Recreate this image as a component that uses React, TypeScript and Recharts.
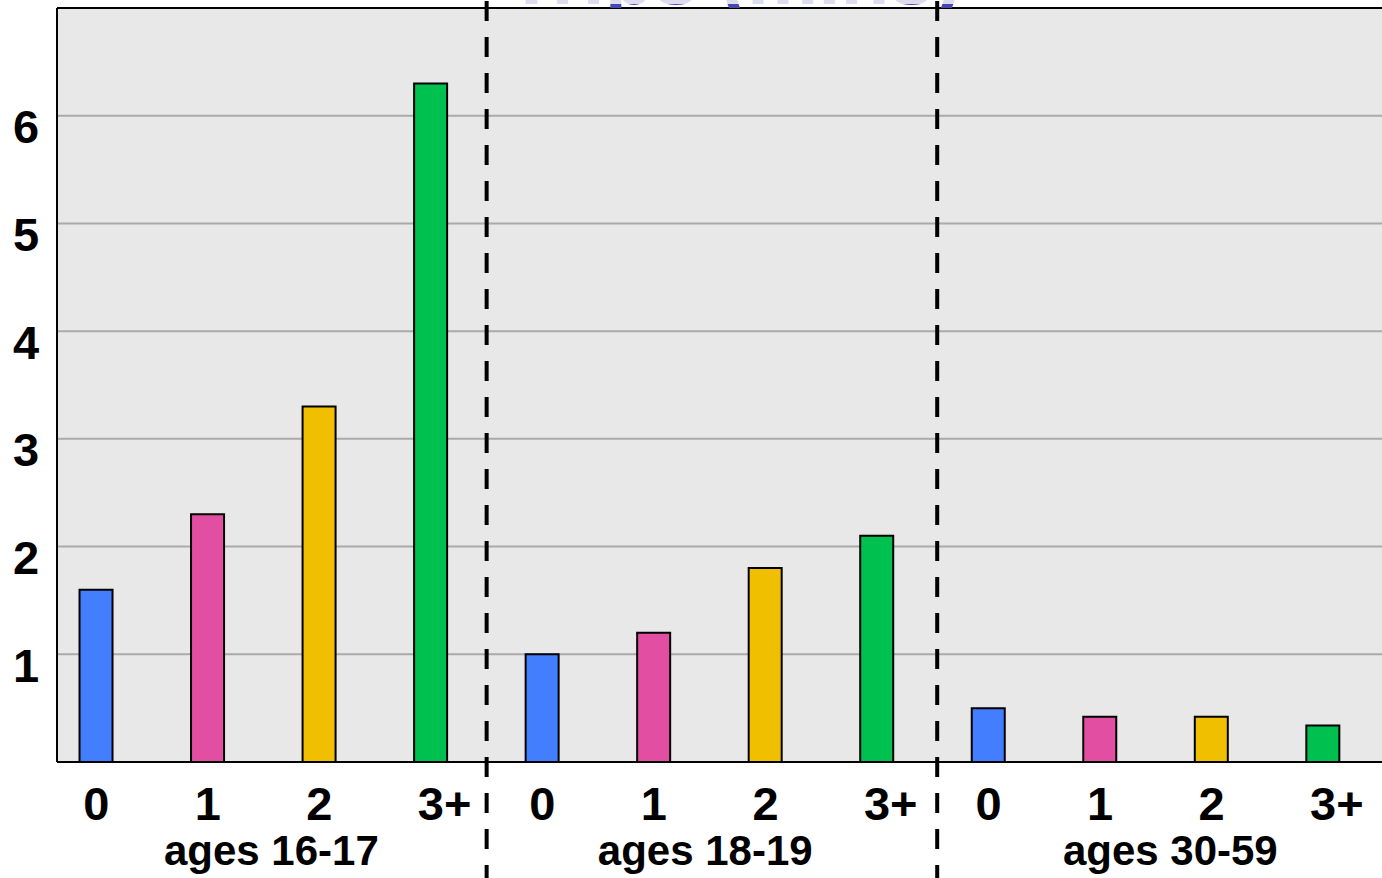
import React from "react";
import {
  BarChart,
  Bar,
  XAxis,
  YAxis,
  CartesianGrid,
  ReferenceLine,
  Cell,
} from "recharts";

// ---- data ----
const passengerCategories = ["0", "1", "2", "3+"];
const ageGroups = ["ages 16-17", "ages 18-19", "ages 30-59"];
const valuesAges1617 = [1.6, 2.3, 3.3, 6.3];
const valuesAges1819 = [1.0, 1.2, 1.8, 2.1];
const valuesAges3059 = [0.5, 0.42, 0.42, 0.34];
const yTicks = [1, 2, 3, 4, 5, 6];
const titleText = "Trips (mins)";

// ---- styling / layout constants ----
const barColors = ["#437eff", "#e24fa2", "#f0c000", "#00c050"];
const FONT = "'Liberation Sans', Arial, sans-serif";
const X_DOMAIN: [number, number] = [-0.3523, 11.6];
const Y_DOMAIN: [number, number] = [0, 7];
const groupSeparators = [3.5, 7.54];
const groupLabelPositions = [1.57, 5.46, 9.63];

const data = [valuesAges1617, valuesAges1819, valuesAges3059].flatMap((vals, g) =>
  vals.map((v, i) => ({
    x: g * 4 + i,
    label: passengerCategories[i],
    value: v,
    colorIndex: i,
  }))
);
const catTicks = data.map((d) => d.x);

const CatTick = (props: any) => {
  const { x, y, payload } = props;
  const label = passengerCategories[Math.round(payload.value) % 4];
  return (
    <text
      x={x}
      y={y + 58}
      dx="-0.278em"
      textAnchor="start"
      fontFamily={FONT}
      fontWeight="bold"
      fontSize={47}
      fill="#000"
    >
      {label}
    </text>
  );
};

const GroupTick = (props: any) => {
  const { x, y, index } = props;
  return (
    <text
      x={x}
      y={y + 43}
      textAnchor="middle"
      fontFamily={FONT}
      fontWeight="bold"
      fontSize={42}
      fill="#000"
    >
      {ageGroups[index]}
    </text>
  );
};

const YTick = (props: any) => {
  const { y, payload } = props;
  return (
    <text
      x={26}
      y={y + 27.5}
      textAnchor="middle"
      fontFamily={FONT}
      fontWeight="bold"
      fontSize={47}
      fill="#000"
    >
      {payload.value}
    </text>
  );
};

export default function App() {
  return (
    <div
      style={{
        position: "fixed",
        left: 0,
        top: 0,
        width: 1382,
        height: 878,
        overflow: "hidden",
        background: "#fff",
      }}
    >
      <div style={{ position: "absolute", left: 0, top: 0, width: 1390, height: 878 }}>
        <BarChart
          width={1390}
          height={878}
          data={data}
          margin={{ top: 8, right: 0, bottom: 0, left: 0 }}
          style={{ overflow: "visible" }}
        >
          <CartesianGrid
            horizontal
            vertical={false}
            fill="#e8e8e8"
            stroke="#aaaaaa"
            strokeWidth={2}
          />
          <XAxis
            xAxisId="cat"
            type="number"
            dataKey="x"
            domain={X_DOMAIN}
            allowDataOverflow
            ticks={catTicks}
            interval={0}
            height={60}
            tickSize={0}
            tickMargin={0}
            tickLine={false}
            axisLine={{ stroke: "#000", strokeWidth: 2 }}
            tick={<CatTick />}
          />
          <XAxis
            xAxisId="grp"
            type="number"
            dataKey="x"
            domain={X_DOMAIN}
            allowDataOverflow
            ticks={groupLabelPositions}
            interval={0}
            height={56}
            tickSize={0}
            tickMargin={0}
            tickLine={false}
            axisLine={false}
            tick={<GroupTick />}
          />
          <YAxis
            type="number"
            domain={Y_DOMAIN}
            ticks={yTicks}
            interval={0}
            width={57}
            tickSize={0}
            tickMargin={0}
            tickLine={false}
            axisLine={{ stroke: "#000", strokeWidth: 2 }}
            tick={<YTick />}
            allowDataOverflow
          />
          <ReferenceLine
            xAxisId="cat"
            y={7}
            stroke="#000"
            strokeWidth={2}
            ifOverflow="visible"
          />
          <Bar
            xAxisId="cat"
            dataKey="value"
            barSize={33}
            stroke="#000"
            strokeWidth={2}
            isAnimationActive={false}
          >
            {data.map((d, i) => (
              <Cell key={i} fill={barColors[d.colorIndex]} />
            ))}
          </Bar>
          {groupSeparators.map((sx, i) => (
            <ReferenceLine
              key={i}
              xAxisId="cat"
              segment={[
                { x: sx, y: 7.065 },
                { x: sx, y: -1.1 },
              ]}
              stroke="#000"
              strokeWidth={4}
              strokeDasharray="20 16"
              ifOverflow="visible"
            />
          ))}
        </BarChart>
      </div>
      <svg
        width={1382}
        height={8}
        style={{ position: "absolute", left: 0, top: 0, pointerEvents: "none" }}
      >
        <defs>
          <linearGradient id="titleFill" gradientUnits="userSpaceOnUse" x1={0} y1={0} x2={0} y2={8}>
            <stop offset="0.5" stopColor="#dcdcee" />
            <stop offset="0.5" stopColor="#4848b0" />
          </linearGradient>
        </defs>
        <text
          x={507}
          y={4}
          fontFamily={FONT}
          fontWeight="bold"
          fontSize={80}
          fill="url(#titleFill)"
        >
          {titleText}
        </text>
      </svg>
    </div>
  );
}
